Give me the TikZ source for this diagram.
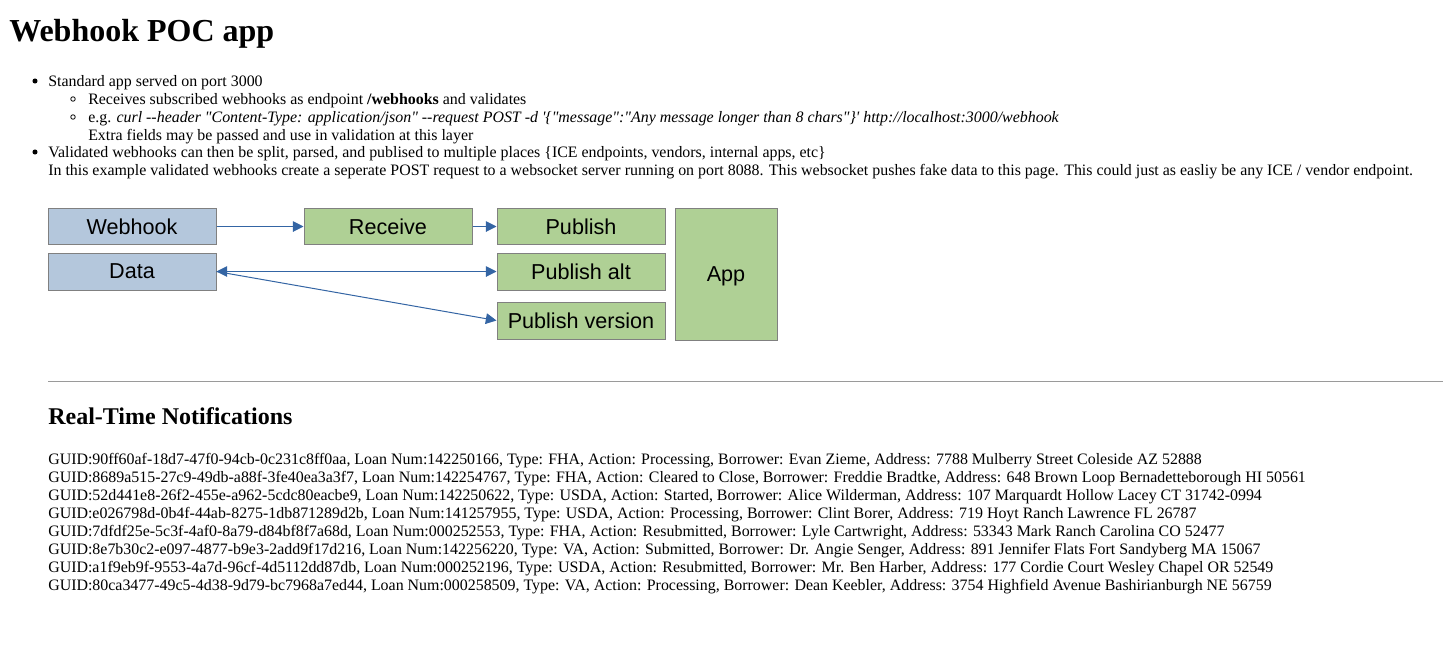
\documentclass[tikz,border=0pt]{standalone}
\usepackage{fontspec}
\setmainfont{Liberation Serif}[Ligatures=TeXOff]
\newfontfamily\boxfont{Liberation Sans}
\usetikzlibrary{arrows.meta}
\definecolor{bluefill}{HTML}{B4C7DC}
\definecolor{greenfill}{HTML}{AFD095}
\definecolor{boxline}{HTML}{808080}
\definecolor{arrowblue}{HTML}{3465A4}
\definecolor{rulegray}{HTML}{9A9A9A}
\begin{document}
\begin{tikzpicture}[x=0.75pt,y=-0.75pt,
  txt/.style={anchor=base west, inner sep=0, font=\fontsize{11.94}{14}\selectfont},
  box/.style={draw=boxline, line width=0.75pt, inner sep=0, font=\boxfont\fontsize{16.2}{19}\selectfont, minimum width=126pt, minimum height=27pt},
  bluebox/.style={box, fill=bluefill},
  greenbox/.style={box, fill=greenfill},
  conn/.style={draw=arrowblue, line width=0.75pt},
  tip/.style={-{Triangle[length=8pt,width=8pt]}},
  bothtips/.style={{Triangle[length=8pt,width=8pt]}-{Triangle[length=8pt,width=8pt]}},
  discbullet/.style={fill=black},
  ringbullet/.style={draw=black, line width=0.6pt},
]
\useasboundingbox (0,0) rectangle (1443,647);

% title
\node[anchor=base west, inner sep=0, font=\bfseries\fontsize{24}{28}\selectfont] (title) at (9,41) {Webhook POC app};

% bullet list
\fill[discbullet] (35,81) circle[radius=1.9pt];
\node[txt] (l1) at (48,86) {Standard app served on port 3000};
\draw[ringbullet] (73,99) circle[radius=1.7pt];
\node[txt] (l2) at (88,104) {Receives subscribed webhooks as endpoint \textbf{/webhooks} and validates};
\draw[ringbullet] (73,117) circle[radius=1.7pt];
\node[txt] (l3) at (88,122) {e.g. \textit{curl --header "Content-Type: application/json" --request POST -d '\{"message":"Any message longer than 8 chars"\}' http://localhost:3000/webhook}};
\node[txt] (l4) at (88,140) {Extra fields may be passed and use in validation at this layer};
\fill[discbullet] (35,152) circle[radius=1.9pt];
\node[txt] (l5) at (48,157) {Validated webhooks can then be split, parsed, and publised to multiple places \{ICE endpoints, vendors, internal apps, etc\}};
\node[txt] (l6) at (48,175) {In this example validated webhooks create a seperate POST request to a websocket server running on port 8088. This websocket pushes fake data to this page. This could just as easliy be any ICE / vendor endpoint.};

% diagram
\node[bluebox] (webhook) at (132,226.5) {Webhook};
\node[bluebox, minimum height=27.75pt] (data) at (132,271.5) {Data};
\node[greenbox] (receive) at (388,226.5) {Receive};
\node[greenbox] (publish) at (581,226.5) {Publish};
\node[greenbox, minimum height=27.75pt] (pubalt) at (581,271.5) {Publish alt};
\node[greenbox, minimum height=27.75pt] (pubver) at (581,320.5) {Publish version};
\node[box, fill=greenfill, minimum width=76.5pt, minimum height=99pt, text depth=0pt] (app) at (726,274) {App};

\draw[conn, tip] (webhook) -- (receive);
\draw[conn, tip] (receive) -- (publish);
\draw[conn, bothtips] (data) -- (pubalt);
\draw[conn, tip] (data.east) -- (pubver.west);

% rule
\coordinate (hrl) at (48,381.5);
\coordinate (hrr) at (1443,381.5);
\draw[rulegray, line width=1pt] (hrl) -- (hrr);

% notifications
\node[anchor=base west, inner sep=0, font=\bfseries\fontsize{18}{22}\selectfont] (rtn) at (48,424) {Real-Time Notifications};
\node[txt] (g1) at (48,464) {GUID:90ff60af-18d7-47f0-94cb-0c231c8ff0aa, Loan Num:142250166, Type: FHA, Action: Processing, Borrower: Evan Zieme, Address: 7788 Mulberry Street Coleside AZ 52888};
\node[txt] (g2) at (48,482) {GUID:8689a515-27c9-49db-a88f-3fe40ea3a3f7, Loan Num:142254767, Type: FHA, Action: Cleared to Close, Borrower: Freddie Bradtke, Address: 648 Brown Loop Bernadetteborough HI 50561};
\node[txt] (g3) at (48,500) {GUID:52d441e8-26f2-455e-a962-5cdc80eacbe9, Loan Num:142250622, Type: USDA, Action: Started, Borrower: Alice Wilderman, Address: 107 Marquardt Hollow Lacey CT 31742-0994};
\node[txt] (g4) at (48,518) {GUID:e026798d-0b4f-44ab-8275-1db871289d2b, Loan Num:141257955, Type: USDA, Action: Processing, Borrower: Clint Borer, Address: 719 Hoyt Ranch Lawrence FL 26787};
\node[txt] (g5) at (48,536) {GUID:7dfdf25e-5c3f-4af0-8a79-d84bf8f7a68d, Loan Num:000252553, Type: FHA, Action: Resubmitted, Borrower: Lyle Cartwright, Address: 53343 Mark Ranch Carolina CO 52477};
\node[txt] (g6) at (48,554) {GUID:8e7b30c2-e097-4877-b9e3-2add9f17d216, Loan Num:142256220, Type: VA, Action: Submitted, Borrower: Dr. Angie Senger, Address: 891 Jennifer Flats Fort Sandyberg MA 15067};
\node[txt] (g7) at (48,572) {GUID:a1f9eb9f-9553-4a7d-96cf-4d5112dd87db, Loan Num:000252196, Type: USDA, Action: Resubmitted, Borrower: Mr. Ben Harber, Address: 177 Cordie Court Wesley Chapel OR 52549};
\node[txt] (g8) at (48,590) {GUID:80ca3477-49c5-4d38-9d79-bc7968a7ed44, Loan Num:000258509, Type: VA, Action: Processing, Borrower: Dean Keebler, Address: 3754 Highfield Avenue Bashirianburgh NE 56759};
\end{tikzpicture}
\end{document}
